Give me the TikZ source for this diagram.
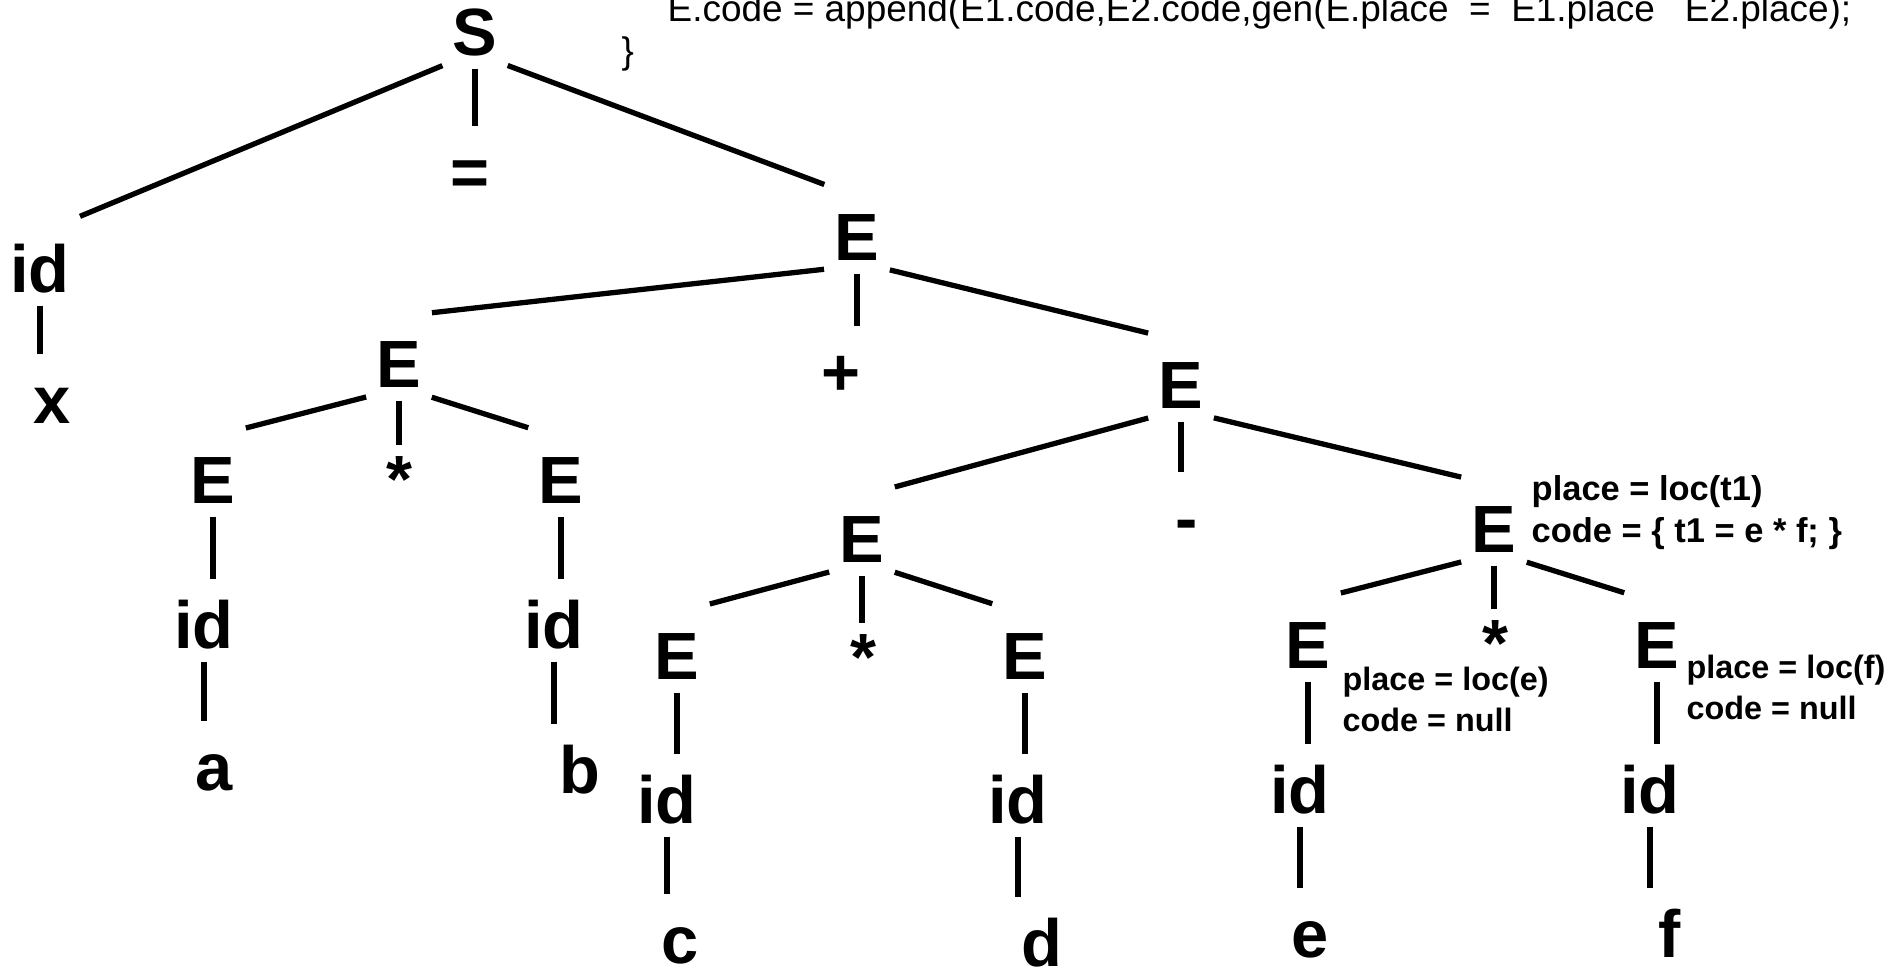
\documentclass[tikz,border=0pt]{standalone}
\usepackage{fontspec}
\setmainfont{Liberation Sans}
\tikzset{
  sym/.style={font=\fontsize{19}{19}\selectfont\bfseries, inner xsep=0.05cm, inner ysep=0pt, text height=0.73cm, text depth=0.08cm, anchor=base},
  op/.style={sym, text height=0.61cm, text depth=0cm},
  attr/.style={font=\fontsize{9.2}{11}\selectfont\bfseries, inner sep=0pt, anchor=base west},
  bigattr/.style={attr, font=\fontsize{9.8}{11}\selectfont\bfseries},
  codetext/.style={font=\fontsize{10.5}{12}\selectfont, inner sep=0pt, anchor=base west},
  branch/.style={line width=1.5pt, shorten <=0.05cm, shorten >=0.05cm},
  stem/.style={line width=1.5pt, shorten <=0.05cm, shorten >=-0.05cm},
}
\begin{document}
\begin{tikzpicture}[x=0.01cm,y=-0.01cm]
  \useasboundingbox (0,0) rectangle (1902,969);

  % Code text
  \node[codetext] (rule) at (667,21) {E.code = append(E1.code,E2.code,gen(E.place\ \ =\ \ E1.place\hspace{0.3cm}E2.place);};
  \node[codetext] (close) at (621,63) {\}};

  % Tree
  \node[sym] (S) at (475,55) {S};
  \node[sym] (eq) at (470,195) {=};
  \node[sym] (id0) at (40,292) {id};
  \node[sym] (lx) at (52,423) {x};
  \node[sym] (E0) at (857,260) {E};
  \node[sym] (plus) at (841,395) {+};
  \node[sym] (E1) at (399,387) {E};
  \node[op] (st1) at (399,502) {*};
  \node[sym] (E3) at (213,503) {E};
  \node[sym] (E4) at (561,503) {E};
  \node[sym] (id1) at (204,648) {id};
  \node[sym] (id2) at (554,648) {id};
  \node[sym] (la) at (214,790) {a};
  \node[sym] (lb) at (580,793) {b};
  \node[sym] (E2) at (1181,408) {E};
  \node[sym] (mi) at (1187,541) {-};
  \node[sym] (E5) at (862,562) {E};
  \node[op] (st2) at (863,680) {*};
  \node[sym] (E7) at (677,679) {E};
  \node[sym] (E8) at (1025,679) {E};
  \node[sym] (id3) at (667,823) {id};
  \node[sym] (id4) at (1018,823) {id};
  \node[sym] (lc) at (680,963) {c};
  \node[sym] (ld) at (1042,966) {d};
  \node[sym] (E6) at (1494,552) {E};
  \node[op] (st3) at (1495,666) {*};
  \node[sym] (E9) at (1308,668) {E};
  \node[sym] (E10) at (1657,668) {E};
  \node[sym] (id5) at (1300,813) {id};
  \node[sym] (id6) at (1650,813) {id};
  \node[sym] (le) at (1310,957) {e};
  \node[sym] (lf) at (1670,957) {f};

  % Branches
  \draw[branch] (S.south west) -- (id0.north east);
  \draw[branch] (S.south east) -- (E0.north west);
  \draw[branch] (E0.south west) -- (E1.north east);
  \draw[branch] (E0.south east) -- (E2.north west);
  \draw[branch] (E1.south west) -- (E3.north east);
  \draw[branch] (E1.south east) -- (E4.north west);
  \draw[branch] (E2.south west) -- (E5.north east);
  \draw[branch] (E2.south east) -- (E6.north west);
  \draw[branch] (E5.south west) -- (E7.north east);
  \draw[branch] (E5.south east) -- (E8.north west);
  \draw[branch] (E6.south west) -- (E9.north east);
  \draw[branch] (E6.south east) -- (E10.north west);

  % Stems
  \draw[stem] (S.south) -- (S.south |- eq.north);
  \draw[stem] (id0.south) -- (id0.south |- lx.north);
  \draw[stem] (E0.south) -- (E0.south |- plus.north);
  \draw[stem] (E1.south) -- (E1.south |- st1.north);
  \draw[stem] (E3.south) -- (E3.south |- id1.north);
  \draw[stem] (id1.south) -- (id1.south |- la.north);
  \draw[stem] (E4.south) -- (E4.south |- id2.north);
  \draw[stem] (id2.south) -- (id2.south |- lb.north);
  \draw[stem] (E2.south) -- (E2.south |- mi.north);
  \draw[stem] (E5.south) -- (E5.south |- st2.north);
  \draw[stem] (E7.south) -- (E7.south |- id3.north);
  \draw[stem] (id3.south) -- (id3.south |- lc.north);
  \draw[stem] (E8.south) -- (E8.south |- id4.north);
  \draw[stem] (id4.south) -- (id4.south |- ld.north);
  \draw[stem] (E6.south) -- (E6.south |- st3.north);
  \draw[stem] (E9.south) -- (E9.south |- id5.north);
  \draw[stem] (id5.south) -- (id5.south |- le.north);
  \draw[stem] (E10.south) -- (E10.south |- id6.north);
  \draw[stem] (id6.south) -- (id6.south |- lf.north);

  % Attributes
  \node[bigattr] (t1place) at (1531,500) {place = loc(t1)};
  \node[bigattr] (t1code) at (1531,542) {code = \{ t1 = e * f; \}};
  \node[attr] (eplace) at (1342,690) {place = loc(e)};
  \node[attr] (ecode) at (1342,731) {code = null};
  \node[attr] (fplace) at (1686,678) {place = loc(f)};
  \node[attr] (fcode) at (1686,719) {code = null};
\end{tikzpicture}
\end{document}
